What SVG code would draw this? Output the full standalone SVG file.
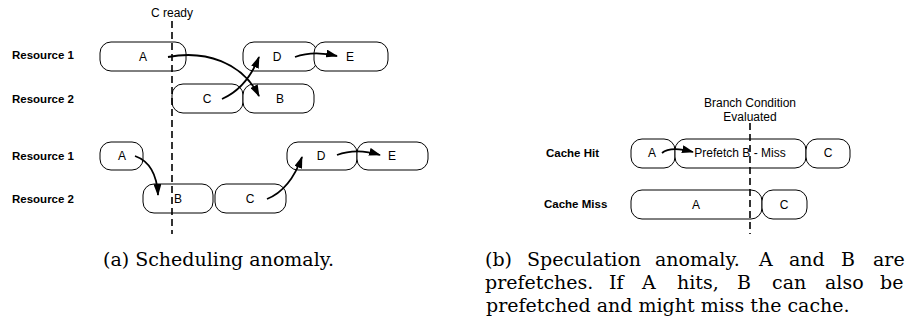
<svg xmlns="http://www.w3.org/2000/svg" width="908" height="322" viewBox="0 0 908 322">
<defs>
<style>
.box{fill:#fff;stroke:#000;stroke-width:1}
.lbl{font-family:"Liberation Sans",Arial,sans-serif;font-size:12px;fill:#000;text-anchor:middle}
.row{font-family:"Liberation Sans",Arial,sans-serif;font-size:11.5px;font-weight:bold;fill:#000}
.dash{stroke:#000;stroke-width:1.6;stroke-dasharray:7,4;fill:none}
.arr{stroke:#000;stroke-width:1.8;fill:none;marker-end:url(#ah)}
.cap{font-family:"DejaVu Serif","Liberation Serif",serif;font-size:19px;fill:#000}
</style>
<marker id="ah" viewBox="0 0 12 8" refX="11" refY="4" markerWidth="12" markerHeight="8" markerUnits="userSpaceOnUse" orient="auto">
<path d="M0,0 L12,4 L0,8 z" fill="#000"/>
</marker>
</defs>
<rect width="908" height="322" fill="#fff"/>

<g id="labels-a">
<text class="lbl" x="172" y="17">C ready</text>
<text class="row" x="12" y="59">Resource 1</text>
<text class="row" x="12" y="103">Resource 2</text>
<text class="row" x="12" y="160">Resource 1</text>
<text class="row" x="12" y="203">Resource 2</text>
</g>

<g id="node-a1"><rect class="box" x="100" y="42" width="86" height="29" rx="11"/><text class="lbl" x="143" y="61">A</text></g>
<g id="node-d1"><rect class="box" x="243" y="42" width="74" height="29" rx="11"/><text class="lbl" x="277" y="61">D</text></g>
<g id="node-e1"><rect class="box" x="314" y="42" width="74" height="29" rx="11"/><text class="lbl" x="350" y="61">E</text></g>
<g id="node-c1"><rect class="box" x="172" y="84" width="71" height="29" rx="11"/><text class="lbl" x="207" y="103">C</text></g>
<g id="node-b1"><rect class="box" x="243" y="84" width="71" height="29" rx="11"/><text class="lbl" x="280" y="103">B</text></g>

<g id="node-a2"><rect class="box" x="100" y="142" width="43" height="28" rx="11"/><text class="lbl" x="122" y="160">A</text></g>
<g id="node-d2"><rect class="box" x="287" y="142" width="70" height="28" rx="11"/><text class="lbl" x="321" y="160">D</text></g>
<g id="node-e2"><rect class="box" x="357" y="142" width="71" height="28" rx="11"/><text class="lbl" x="392" y="160">E</text></g>
<g id="node-b2"><rect class="box" x="143" y="184" width="70" height="29" rx="11"/><text class="lbl" x="178" y="203">B</text></g>
<g id="node-c2"><rect class="box" x="215" y="184" width="71" height="29" rx="11"/><text class="lbl" x="250" y="203">C</text></g>

<g id="labels-b">
<text class="lbl" x="750" y="107">Branch Condition</text>
<text class="lbl" x="750" y="121">Evaluated</text>
<text class="row" x="546" y="157">Cache Hit</text>
<text class="row" x="544" y="208">Cache Miss</text>
</g>

<g id="node-hit-a"><rect class="box" x="631" y="139" width="44" height="29" rx="11"/><text class="lbl" x="652" y="157">A</text></g>
<g id="node-hit-b"><rect class="box" x="675" y="139" width="131" height="29" rx="11"/><text class="lbl" x="740" y="157">Prefetch B - Miss</text></g>
<g id="node-hit-c"><rect class="box" x="806" y="139" width="44" height="29" rx="11"/><text class="lbl" x="828" y="157">C</text></g>
<g id="node-miss-a"><rect class="box" x="631" y="190" width="131" height="29" rx="11"/><text class="lbl" x="696" y="209">A</text></g>
<g id="node-miss-c"><rect class="box" x="762" y="190" width="45" height="29" rx="11"/><text class="lbl" x="784" y="209">C</text></g>

<g id="connectors">
<line class="dash" x1="172" y1="21" x2="172" y2="234"/>
<line class="dash" x1="750" y1="123" x2="750" y2="234"/>
<path class="arr" d="M168,57 C205,50 242,62 259,96"/>
<path class="arr" d="M222,99 C238,92 250,80 259,57"/>
<path class="arr" d="M295,57 C306,53 320,52 337,56"/>
<path class="arr" d="M135,156 C149,161 157,175 158,195"/>
<path class="arr" d="M267,199 C282,193 294,179 302,157"/>
<path class="arr" d="M337,155 C350,150 364,150 380,155"/>
<path class="arr" d="M662,153 C668,148 678,148 693,152"/>
</g>

<g id="captions">
<text class="cap" x="103" y="266">(a) Scheduling anomaly.</text>
<text class="cap" y="266"><tspan x="485">(b)</tspan> <tspan x="527">Speculation</tspan> <tspan x="655">anomaly.</tspan> <tspan x="759">A</tspan> <tspan x="789">and</tspan> <tspan x="841">B</tspan> <tspan x="873">are</tspan></text>
<text class="cap" y="289"><tspan x="485">prefetches.</tspan> <tspan x="609">If</tspan> <tspan x="642">A</tspan> <tspan x="677">hits,</tspan> <tspan x="737">B</tspan> <tspan x="772">can</tspan> <tspan x="825">also</tspan> <tspan x="880">be</tspan></text>
<text class="cap" x="486" y="312">prefetched and might miss the cache.</text>
</g>
</svg>
